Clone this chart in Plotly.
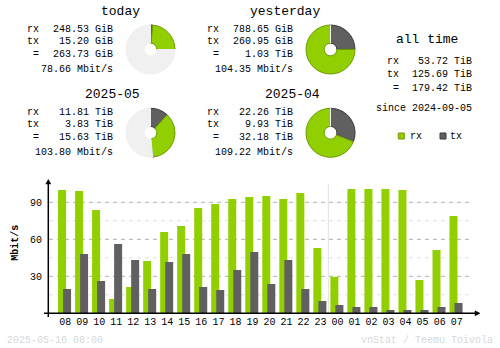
import plotly.graph_objects as go

W, H = 500, 348
MONO = "Liberation Mono"
RX_COLOR = "#92CF00"
TX_COLOR = "#606060"
RX_EDGE = "#6B9A00"
TX_EDGE = "#3A3A3A"
PIE_BG = "#F0F0F0"

# ---- summary data ----
periods = ["today", "yesterday", "2025-05", "2025-04"]
rx_vals = [248.53, 788.65, 11.81, 22.26]
tx_vals = [15.20, 260.95, 3.83, 9.93]
total_vals = [263.73, 1.03, 15.63, 32.18]
rx_units = ["GiB", "GiB", "TiB", "TiB"]
tx_units = ["GiB", "GiB", "TiB", "TiB"]
total_units = ["GiB", "TiB", "TiB", "TiB"]
rates = [78.66, 104.35, 103.80, 109.22]

alltime_rx = 53.72
alltime_tx = 125.69
alltime_total = 179.42
since_date = "2024-09-05"

# ---- hourly data (Mbit/s) ----
hours = ["08", "09", "10", "11", "12", "13", "14", "15", "16", "17", "18", "19",
         "20", "21", "22", "23", "00", "01", "02", "03", "04", "05", "06", "07"]
rx_rate = [100.0, 99.2, 83.8, 11.6, 21.4, 42.4, 65.9, 70.8, 85.4, 88.6, 92.7, 94.3,
           95.1, 92.7, 97.6, 53.0, 29.7, 100.8, 100.8, 100.8, 100.0, 27.0, 51.4, 78.9]
tx_rate = [19.7, 48.1, 26.2, 56.2, 43.2, 19.7, 41.6, 48.1, 21.4, 18.9, 35.1, 49.7,
           23.8, 43.2, 19.7, 10.0, 6.8, 5.1, 5.1, 2.7, 2.7, 2.7, 5.1, 8.4]

timestamp = "2025-05-16 08:00"
credit = "vnStat / Teemu Toivola"


def px(x):
    return x / W


def py(y):
    return 1 - y / H


def to_gib(v, u):
    return v * 1024 if u == "TiB" else v


annotations = []


def note(text, x, y, size=10, xanchor="left", color="#000000", **kw):
    annotations.append(dict(text=text, x=px(x), y=py(y), xref="paper", yref="paper",
                            xanchor=xanchor, yanchor="middle", showarrow=False,
                            font=dict(family=MONO, size=size, color=color), **kw))


fig = go.Figure()

# ---- period blocks: text + pie ----
block_pos = [(0, 0), (180, 0), (0, 83.3), (180, 83.3)]
ref_index = [1, None, 3, None]  # partial periods are compared with the previous one
R = 24.5
for i, (dx, dy) in enumerate(block_pos):
    note(periods[i], 141.7 + dx, 11 + dy, size=13, xanchor="right")
    note("rx", 25.3 + dx, 29 + dy)
    note(f"{rx_vals[i]:.2f} {rx_units[i]}", 115 + dx, 29 + dy, xanchor="right")
    note("tx", 25.3 + dx, 41 + dy)
    note(f"{tx_vals[i]:.2f} {tx_units[i]}", 115 + dx, 41 + dy, xanchor="right")
    note("=", 31.3 + dx, 54.3 + dy)
    note(f"{total_vals[i]:.2f} {total_units[i]}", 115 + dx, 54.3 + dy, xanchor="right")
    note(f"{rates[i]:.2f} Mbit/s", 115 + dx, 69 + dy, xanchor="right")

    rx_g = to_gib(rx_vals[i], rx_units[i])
    tx_g = to_gib(tx_vals[i], tx_units[i])
    tot_g = to_gib(total_vals[i], total_units[i])
    rest = 0.0
    if ref_index[i] is not None:
        j = ref_index[i]
        ref_g = to_gib(total_vals[j], total_units[j])
        rest = max(ref_g - tot_g, 0.0)
    cx, cy = 150.5 + dx, 49.5 + dy
    fig.add_trace(go.Pie(
        values=[tx_g, rx_g, rest],
        marker=dict(colors=[TX_COLOR, RX_COLOR, PIE_BG],
                    line=dict(color=[TX_EDGE, RX_EDGE, PIE_BG], width=1)),
        hole=0.26, sort=False, direction="clockwise", rotation=0,
        textinfo="none", hoverinfo="skip", showlegend=False,
        domain=dict(x=[px(cx - R), px(cx + R)], y=[py(cy + R), py(cy - R)]),
    ))

# ---- all time block ----
note("all time", 460, 39.3, size=13, xanchor="right")
note("rx", 385, 62)
note(f"{alltime_rx:.2f} TiB", 474, 62, xanchor="right")
note("tx", 385, 74)
note(f"{alltime_tx:.2f} TiB", 474, 74, xanchor="right")
note("=", 391, 88)
note(f"{alltime_total:.2f} TiB", 474, 88, xanchor="right")
note(f"since {since_date}", 474, 108.3, xanchor="right")
note("rx", 407.5, 136)
note("tx", 448, 136)

shapes = []
for x0, fill, edge in [(398.3, RX_COLOR, RX_EDGE), (440, TX_COLOR, TX_EDGE)]:
    shapes.append(dict(type="rect", xref="paper", yref="paper",
                       x0=px(x0), x1=px(x0 + 6), y0=py(139), y1=py(133),
                       fillcolor=fill, line=dict(color=edge, width=1)))

# ---- hourly bars ----
fig.add_trace(go.Bar(x=hours, y=rx_rate, marker=dict(color=RX_COLOR, line=dict(width=0)),
                     offset=-0.42, width=0.47, hoverinfo="skip", showlegend=False))
fig.add_trace(go.Bar(x=hours, y=tx_rate, marker=dict(color=TX_COLOR, line=dict(width=0)),
                     offset=-0.125, width=0.47, hoverinfo="skip", showlegend=False))

# grid lines: major at 30s, light minor in between
for v in [15, 45, 75]:
    shapes.append(dict(type="line", xref="paper", yref="y", x0=px(49), x1=px(473), y0=v, y1=v,
                       line=dict(color="#E0E0E0", width=1, dash="4px,4px"), layer="below"))
for v in [30, 60, 90]:
    shapes.append(dict(type="line", xref="paper", yref="y", x0=px(49), x1=px(473), y0=v, y1=v,
                       line=dict(color="#B0B0B0", width=1, dash="4px,4px"), layer="below"))
# day separator between 23 and 00
shapes.append(dict(type="line", xref="x", yref="y", x0=15.46, x1=15.46, y0=0, y1=104.8,
                   line=dict(color="#E0E0E0", width=1), layer="below"))

# axes with arrow heads
shapes.append(dict(type="line", xref="paper", yref="paper", x0=px(44), x1=px(476),
                   y0=py(313.3), y1=py(313.3), line=dict(color="#000000", width=1.5)))
shapes.append(dict(type="line", xref="paper", yref="paper", x0=px(48.3), x1=px(48.3),
                   y0=py(317), y1=py(183), line=dict(color="#000000", width=1.5)))
shapes.append(dict(type="path", xref="paper", yref="paper",
                   path=f"M {px(475)} {py(310.8)} L {px(480)} {py(313.3)} L {px(475)} {py(315.8)} Z",
                   fillcolor="#000000", line=dict(color="#000000", width=0.5)))
shapes.append(dict(type="path", xref="paper", yref="paper",
                   path=f"M {px(45.8)} {py(184)} L {px(48.3)} {py(179.5)} L {px(50.8)} {py(184)} Z",
                   fillcolor="#000000", line=dict(color="#000000", width=0.5)))

# axis title
annotations.append(dict(text="<b>Mbit/s</b>", x=px(14.7), y=py(243), xref="paper", yref="paper",
                        xanchor="center", yanchor="middle", showarrow=False, textangle=-90,
                        font=dict(family=MONO, size=10, color="#000000")))

# footer
note(timestamp, 5, 340, color="#D8D8D8")
note(credit, 495, 340, xanchor="right", color="#D8D8D8")

x_left, x_right = 48.0, 479.0
slot, c0 = 17.02, 65.2
y_bottom, y_top = 313.3, 179.0
fig.update_layout(
    width=W, height=H,
    margin=dict(l=0, r=0, t=0, b=0),
    paper_bgcolor="#FFFFFF", plot_bgcolor="rgba(0,0,0,0)",
    barmode="overlay", showlegend=False,
    xaxis=dict(domain=[px(x_left), px(x_right)],
               range=[(x_left - c0) / slot, (x_right - c0) / slot],
               type="category", showgrid=False, zeroline=False, showline=False,
               ticks="", ticklabelstandoff=1,
               tickfont=dict(family=MONO, size=10, color="#000000")),
    yaxis=dict(domain=[py(y_bottom), py(y_top)],
               range=[0, (y_bottom - y_top) / (37.0 / 30.0)],
               tickvals=[30, 60, 90], showgrid=False, zeroline=False, showline=False,
               ticks="", ticklabelstandoff=5,
               tickfont=dict(family=MONO, size=10, color="#000000")),
    annotations=annotations,
    shapes=shapes,
)

fig.write_html("out.html")
